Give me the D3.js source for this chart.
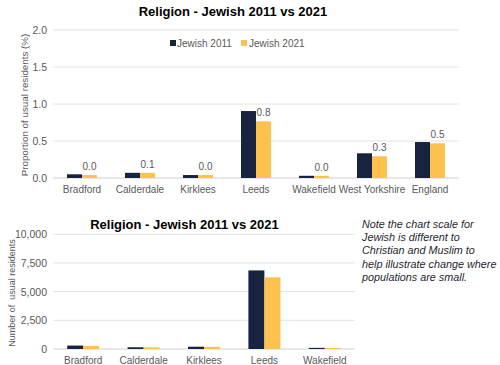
<!DOCTYPE html>
<html><head><meta charset="utf-8">
<script src="https://cdn.jsdelivr.net/npm/d3@7"></script>
<style>body{margin:0;background:#fff;} svg{display:block;font-family:"Liberation Sans",Arial,sans-serif;}</style>
</head><body>
<script>
const topCategories = ["Bradford","Calderdale","Kirklees","Leeds","Wakefield","West Yorkshire","England"];
const topJewish2011 = [0.05,0.07,0.04,0.905,0.03,0.334,0.486];
const topJewish2021 = [0.04,0.07,0.04,0.766,0.03,0.293,0.469];
const topLabels = ["0.0","0.1","0.0","0.8","0.0","0.3","0.5"];
const topTicks = [0,0.5,1.0,1.5,2.0];

const botCategories = ["Bradford","Calderdale","Kirklees","Leeds","Wakefield"];
const botJewish2011 = [300,150,200,6850,100];
const botJewish2021 = [270,140,190,6250,95];
const botTicks = [0,2500,5000,7500,10000];

const seriesNames = ["Jewish 2011","Jewish 2021"];
const colors = ["#17233f","#fcc14f"];
const noteLines = ["Note the chart scale for","Jewish is different to","Christian and Muslim to","help illustrate change where","populations are small."];

const svg = d3.select("body").append("svg").attr("width",500).attr("height",365);
const grey = "#595959";

function drawChart(opts){
  const {cats,s1,s2,ticks,x0,x1,y0,y1,domainMax,fmt,barW,labels} = opts;
  const x = d3.scaleBand().domain(cats).range([x0,x1]);
  const y = d3.scaleLinear().domain([0,domainMax]).range([y0,y1]);
  const g = svg.append("g");
  g.selectAll("line.grid").data(ticks).join("line")
    .attr("x1",x0).attr("x2",x1).attr("y1",d=>y(d)).attr("y2",d=>y(d))
    .attr("stroke",d=>d===0?"#d0d0d0":"#e2e2e2").attr("stroke-width",1);
  const ya = d3.axisLeft(y).tickValues(ticks).tickFormat(fmt).tickSize(0).tickPadding(6);
  const yg = g.append("g").attr("transform",`translate(${x0},0)`).call(ya);
  yg.select(".domain").remove();
  yg.selectAll("text").attr("fill",grey).style("font-size","10.5px").attr("font-family","Liberation Sans, Arial, sans-serif");
  const xa = d3.axisBottom(x).tickSize(0).tickPadding(8);
  const xg = g.append("g").attr("transform",`translate(0,${y0})`).call(xa);
  xg.select(".domain").remove();
  xg.selectAll("text").attr("fill",grey).style("font-size","10px").attr("font-family","Liberation Sans, Arial, sans-serif");
  cats.forEach((c,i)=>{
    const cx = x(c)+x.bandwidth()/2;
    g.append("rect").attr("x",cx-barW).attr("width",barW)
      .attr("y",y(s1[i])).attr("height",y0-y(s1[i])).attr("fill",colors[0]);
    g.append("rect").attr("x",cx).attr("width",barW)
      .attr("y",y(s2[i])).attr("height",y0-y(s2[i])).attr("fill",colors[1]);
    if(labels){
      g.append("text").attr("x",cx+barW/2).attr("y",y(s2[i])-5)
        .attr("text-anchor","middle").attr("fill",grey).style("font-size","10px").text(labels[i]);
    }
  });
}

// Top chart
svg.append("text").attr("x",233).attr("y",16).attr("text-anchor","middle")
  .style("font-size","13px").style("font-weight","bold").attr("fill","#000")
  .text("Religion - Jewish 2011 vs 2021");
drawChart({cats:topCategories,s1:topJewish2011,s2:topJewish2021,ticks:topTicks,
  x0:53,x1:459,y0:178,y1:30,domainMax:2.0,fmt:d3.format(".1f"),barW:15,labels:topLabels});
svg.append("text").attr("transform","translate(28,105) rotate(-90)").attr("text-anchor","middle")
  .attr("fill",grey).style("font-size","9.8px").text("Proportion of usual residents (%)");
const lg = svg.append("g");
[[170,177],[241,249]].forEach((p,i)=>{
  lg.append("rect").attr("x",p[0]).attr("y",40).attr("width",6).attr("height",6).attr("fill",colors[i]);
  lg.append("text").attr("x",p[1]).attr("y",47).attr("fill",grey).style("font-size","10px").text(seriesNames[i]);
});

// Bottom chart
svg.append("text").attr("x",184.5).attr("y",229).attr("text-anchor","middle")
  .style("font-size","13px").style("font-weight","bold").attr("fill","#000")
  .text("Religion - Jewish 2011 vs 2021");
drawChart({cats:botCategories,s1:botJewish2011,s2:botJewish2021,ticks:botTicks,
  x0:53,x1:355,y0:349,y1:234.3,domainMax:10000,fmt:d3.format(","),barW:16,labels:null});
svg.append("text").attr("transform","translate(15,293) rotate(-90)").attr("text-anchor","middle")
  .attr("fill",grey).style("font-size","9px").style("white-space","pre")
  .text("Number of  usual residents");

const nt = svg.append("text").attr("fill","#1f1f2e").style("font-size","10.8px").style("font-style","italic");
noteLines.forEach((l,i)=>{
  nt.append("tspan").attr("x",362).attr("y",227.5+i*13.4).text(l);
});
</script>
</body></html>
